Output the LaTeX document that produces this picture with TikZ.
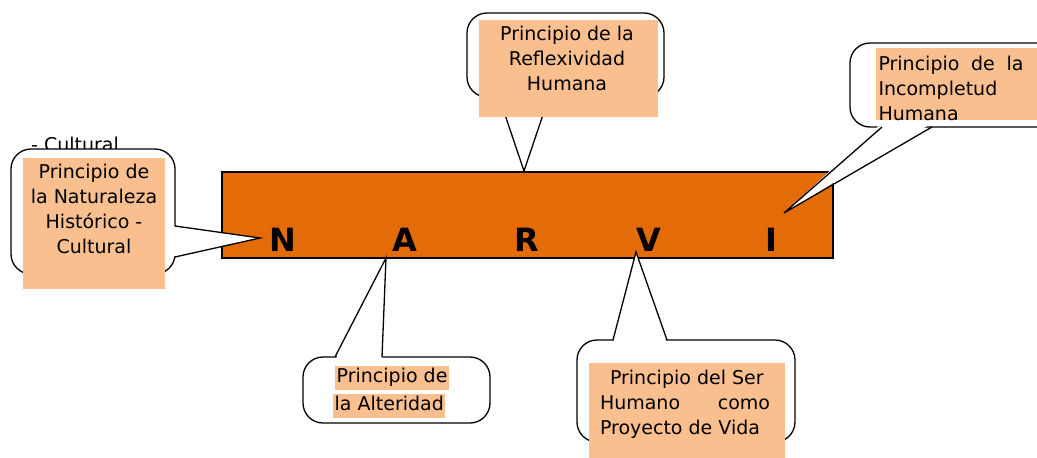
\documentclass[tikz,border=0pt]{standalone}
\usepackage{fontspec}
\setmainfont{DejaVu Sans}
\definecolor{peach}{RGB}{250,191,143}
\definecolor{narvi}{RGB}{227,108,9}
\begin{document}
\begin{tikzpicture}[x=1pt,y=-1pt,
  callbox/.style={draw=black, line width=1.3pt, fill=white, rounded corners=20pt},
  tailline/.style={draw=black, line width=1.3pt, line join=miter},
  txt/.style={font=\fontsize{19}{25}\selectfont, inner sep=0pt, text=black},
  hl/.style={txt, fill=peach, inner xsep=1.5pt, inner ysep=2.5pt, text height=14pt, text depth=4.5pt, anchor=west},
  letter/.style={font=\fontsize{32}{32}\selectfont\bfseries, inner sep=0pt, anchor=base}]
\useasboundingbox (0,0) rectangle (1037,458);
\clip (0,0) rectangle (1037,458);
\fill[white] (0,0) rectangle (1037,458);

% stray text behind the left callout
\node[txt] (stray) at (75,144) {- Cultural};

% bar
\draw[line width=1.5pt, fill=narvi] (222,172) rectangle (833,258);
\node[letter] (N) at (283,251) {N};
\node[letter] (A) at (405,251) {A};
\node[letter] (R) at (527,251) {R};
\node[letter] (V) at (649,251) {V};
\node[letter] (I) at (771,251) {I};

% tail tips
\coordinate (tipN) at (260,238);
\coordinate (tipR) at (524,171);
\coordinate (tipI) at (784,213);
\coordinate (tipA) at (386,258);
\coordinate (tipV) at (636,252);

% ---- left callout (N)
\draw[callbox] (11,149) rectangle (175,274);
\fill[white] (171,226) -- (tipN) -- (171,257) -- cycle;
\draw[tailline] (175,226) -- (tipN) -- (175,257);
\fill[peach] (23,158) rectangle (165,289);
\node[txt, align=center] (tN) at (94,209) {Principio de\\la Naturaleza\\Histórico -\\Cultural};

% ---- top callout (R)
\draw[callbox] (467,13) rectangle (664,97);
\fill[white] (499,93) -- (tipR) -- (549,93) -- cycle;
\draw[tailline] (499,97) -- (tipR) -- (549,97);
\fill[peach] (479,20) rectangle (658,117);
\node[txt, align=center] (tR) at (567,58) {Principio de la\\Reflexividad\\Humana};

% ---- top right callout (I)
\draw[callbox] (850,43) rectangle (1060,127);
\fill[white] (882,123) -- (tipI) -- (932,123) -- cycle;
\draw[tailline] (882,127) -- (tipI) -- (932,127);
\fill[peach] (876,48) rectangle (1037,120);
\node[txt, align=left] (tI) at (951,88) {\makebox[145pt][s]{Principio de la}\\Incompletud\\Humana};

% ---- bottom callout (A)
\draw[callbox] (303,357) rectangle (490,423);
\fill[white] (335,361) -- (tipA) -- (382,361) -- cycle;
\draw[tailline] (335,357) -- (tipA) -- (382,357);
\node[hl] (tA1) at (335,378) {Principio de};
\node[hl] (tA2) at (333,406) {la Alteridad};

% ---- bottom callout (V)
\draw[callbox] (577,340) rectangle (795,442);
\fill[white] (613,344) -- (tipV) -- (667,344) -- cycle;
\draw[tailline] (613,340) -- (tipV) -- (667,340);
\fill[peach] (589,363) rectangle (785,458);
\node[txt, align=left] (tV) at (685,404) {\hspace*{10pt}Principio del Ser\\\makebox[170pt][s]{Humano como}\\Proyecto de Vida};
\end{tikzpicture}
\end{document}
